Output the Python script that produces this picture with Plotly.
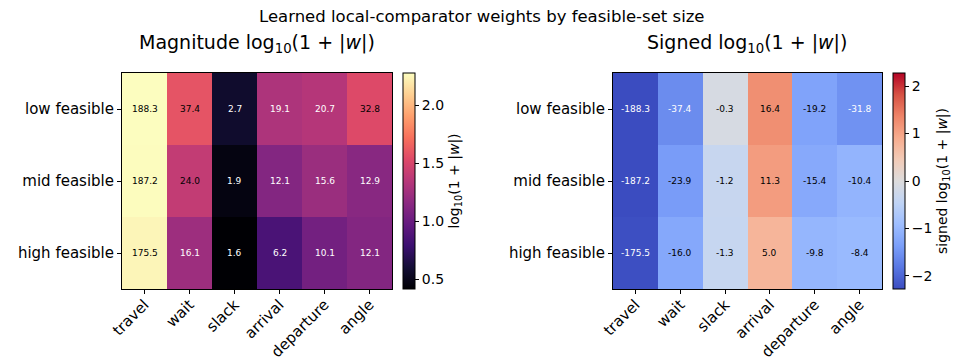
import numpy as np
import plotly.graph_objects as go

features = ["travel", "wait", "slack", "arrival", "departure", "angle"]
rows = ["low feasible", "mid feasible", "high feasible"]

magnitude_w = [
    [188.3, 37.4, 2.7, 19.1, 20.7, 32.8],
    [187.2, 24.0, 1.9, 12.1, 15.6, 12.9],
    [175.5, 16.1, 1.6, 6.2, 10.1, 12.1],
]
signed_w = [
    [-188.3, -37.4, -0.3, 16.4, -19.2, -31.8],
    [-187.2, -23.9, -1.2, 11.3, -15.4, -10.4],
    [-175.5, -16.0, -1.3, 5.0, -9.8, -8.4],
]

mag_ticks = [0.5, 1.0, 1.5, 2.0]
sign_ticks = [-2, -1, 0, 1, 2]

magma = [
    [0.0, "#000004"], [0.1, "#140e36"], [0.2, "#3b0f70"], [0.3, "#641a80"],
    [0.4, "#8c2981"], [0.5, "#b73779"], [0.6, "#de4968"], [0.7, "#f7705c"],
    [0.8, "#fe9f6d"], [0.9, "#fecf92"], [1.0, "#fcfdbf"],
]
coolwarm = [
    [0.0, "#3b4cc0"], [0.1, "#5977e3"], [0.2, "#7b9ff9"], [0.3, "#9ebeff"],
    [0.4, "#c0d4f5"], [0.5, "#dddcdc"], [0.6, "#f2cbb7"], [0.7, "#f7ac8e"],
    [0.8, "#ee8468"], [0.9, "#d65244"], [1.0, "#b40426"],
]

M = np.array(magnitude_w)
S = np.array(signed_w)
Zm = np.log10(1 + np.abs(M))
Zs = np.sign(S) * np.log10(1 + np.abs(S))
mmin, mmax = Zm.min(), Zm.max()
smax = np.abs(Zs).max()

W, H = 964, 362
FONT = "DejaVu Sans"

def px_x(v):
    return v / W

def px_y(v):
    return 1 - v / H

fig = go.Figure()

fig.add_trace(go.Heatmap(
    z=Zm, x=features, y=rows, colorscale=magma, zmin=mmin, zmax=mmax,
    xaxis="x", yaxis="y", hoverinfo="skip",
    colorbar=dict(
        x=px_x(403), xanchor="left", y=px_y(181), yanchor="middle",
        thickness=12, thicknessmode="pixels", len=216, lenmode="pixels",
        outlinewidth=1, outlinecolor="black", xpad=0, ypad=0,
        tickvals=mag_ticks, ticktext=[f"{t:.1f}" for t in mag_ticks],
        ticks="outside", ticklen=4, tickcolor="black",
        tickfont=dict(size=14, color="black", family=FONT),
        title=dict(text="log<sub>10</sub>(1 + |<i>w</i>|)", side="right",
                   font=dict(size=14, color="black", family=FONT)),
    ),
))

fig.add_trace(go.Heatmap(
    z=Zs, x=features, y=rows, colorscale=coolwarm, zmin=-smax, zmax=smax,
    xaxis="x2", yaxis="y2", hoverinfo="skip",
    colorbar=dict(
        x=px_x(893), xanchor="left", y=px_y(181), yanchor="middle",
        thickness=12, thicknessmode="pixels", len=216, lenmode="pixels",
        outlinewidth=1, outlinecolor="black", xpad=0, ypad=0,
        tickvals=sign_ticks,
        ticktext=[("\u2212" + str(abs(t))) if t < 0 else str(t) for t in sign_ticks],
        ticks="outside", ticklen=4, tickcolor="black",
        tickfont=dict(size=14, color="black", family=FONT),
        title=dict(text="signed log<sub>10</sub>(1 + |<i>w</i>|)", side="right",
                   font=dict(size=14, color="black", family=FONT)),
    ),
))

annotations = []
for i, r in enumerate(rows):
    for j, f in enumerate(features):
        nm = (Zm[i, j] - mmin) / (mmax - mmin)
        annotations.append(dict(
            x=f, y=r, xref="x", yref="y", text=f"{M[i, j]:.1f}", showarrow=False,
            font=dict(size=9, family=FONT, color="black" if nm > 0.5 else "white"),
        ))
        annotations.append(dict(
            x=f, y=r, xref="x2", yref="y2", text=f"{S[i, j]:.1f}", showarrow=False,
            font=dict(size=9, family=FONT, color="white" if abs(Zs[i, j]) > 1.45 else "black"),
        ))

annotations.append(dict(
    x=0.5, y=px_y(16), xref="paper", yref="paper", xanchor="center", yanchor="middle",
    text="Learned local-comparator weights by feasible-set size", showarrow=False,
    font=dict(size=16.5, family=FONT, color="black"),
))
annotations.append(dict(
    x=px_x(257), y=px_y(58), xref="paper", yref="paper", xanchor="center", yanchor="bottom",
    text="Magnitude log<sub>10</sub>(1 + |<i>w</i>|)", showarrow=False,
    font=dict(size=19, family=FONT, color="black"),
))
annotations.append(dict(
    x=px_x(747), y=px_y(58), xref="paper", yref="paper", xanchor="center", yanchor="bottom",
    text="Signed log<sub>10</sub>(1 + |<i>w</i>|)", showarrow=False,
    font=dict(size=19, family=FONT, color="black"),
))

axis_common = dict(
    showline=True, linecolor="black", linewidth=1, mirror=True,
    ticks="outside", ticklen=4, tickcolor="black", showgrid=False, zeroline=False,
    tickfont=dict(size=15, family=FONT, color="black"), automargin=False,
)

fig.update_layout(
    width=W, height=H, margin=dict(l=0, r=0, t=0, b=0, autoexpand=False),
    paper_bgcolor="white", plot_bgcolor="white",
    showlegend=False, annotations=annotations,
    xaxis=dict(domain=[px_x(122), px_x(392)], anchor="y", tickangle=-45,
               ticklabelstandoff=-4, **axis_common),
    yaxis=dict(domain=[px_y(289), px_y(73)], anchor="x", autorange="reversed", **axis_common),
    xaxis2=dict(domain=[px_x(613), px_x(882)], anchor="y2", tickangle=-45,
                ticklabelstandoff=-4, **axis_common),
    yaxis2=dict(domain=[px_y(289), px_y(73)], anchor="x2", autorange="reversed", **axis_common),
)

fig.write_html(
    "out.html",
    config={"displayModeBar": False},
    post_script="document.body.style.margin='0px';document.body.style.overflow='hidden';",
)
